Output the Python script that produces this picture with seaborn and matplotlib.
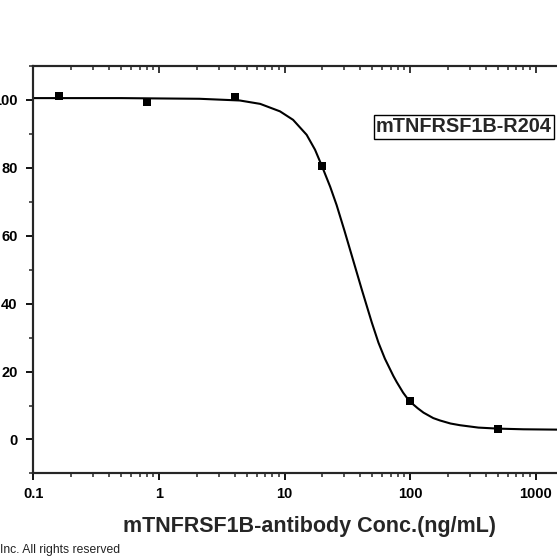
import matplotlib
matplotlib.use('Agg')
import matplotlib.pyplot as plt
import seaborn as sns
from matplotlib.ticker import FixedLocator, LogLocator, MultipleLocator, NullFormatter

# measured points (5-fold dilution series)
conc = [0.16, 0.8, 4, 20, 100, 500]
response = [101.0, 99.5, 100.8, 80.4, 11.3, 3.2]

# fitted curve
fit_conc = [0.1, 0.5, 1.0, 2.1, 4.4, 6.4, 9.2, 11.7, 15.0, 17.5, 19.9, 23.1,
            26.0, 30.0, 34.3, 41.2, 49.5, 56.0, 63.0, 73.6, 78.3, 88.0, 98.7,
            115, 128, 153, 173, 210, 250, 350, 500, 800, 1500]
fit_response = [100.5, 100.5, 100.4, 100.3, 99.8, 98.8, 96.6, 94.1, 89.7, 85.3,
                80.4, 74.4, 69.0, 61.5, 54.2, 44.2, 34.5, 28.5, 23.8, 18.7,
                16.9, 13.8, 11.3, 9.2, 7.9, 6.3, 5.6, 4.7, 4.2, 3.5, 3.2, 3.0,
                2.9]

x_ticks = [0.1, 1, 10, 100, 1000]
x_tick_labels = ['0.1', '1', '10', '100', '1000']
y_ticks = [0, 20, 40, 60, 80, 100]
sample_label = 'mTNFRSF1B-R204'
x_title = 'mTNFRSF1B-antibody Conc.(ng/mL)'
footer = 'Inc. All rights reserved'

sns.set_style('ticks')
plt.rcParams['font.family'] = ['Liberation Sans', 'DejaVu Sans']

fig = plt.figure(figsize=(5.57, 5.57), dpi=100)
# axes run past the right edge: the source image is cropped there
ax = fig.add_axes([0.0601, 0.150, 1.009, 0.7318])

sns.lineplot(x=fit_conc, y=fit_response, color='black', linewidth=1.5,
             estimator=None, ax=ax)
sns.scatterplot(x=conc, y=response, marker='s', s=32, color='black',
                edgecolor='black', linewidth=0, zorder=3, ax=ax)

ax.set_xscale('log')
ax.set_xlim(0.1, 3000)
ax.set_ylim(-10, 110)

ax.xaxis.set_major_locator(FixedLocator(x_ticks))
ax.set_xticklabels(x_tick_labels)
ax.xaxis.set_minor_locator(LogLocator(base=10, subs=range(2, 10), numticks=20))
ax.xaxis.set_minor_formatter(NullFormatter())
ax.set_yticks(y_ticks)
ax.yaxis.set_minor_locator(MultipleLocator(10))

for side in ['left', 'bottom', 'top', 'right']:
    ax.spines[side].set_linewidth(1.5)
    ax.spines[side].set_color('black')

ax.tick_params(which='major', direction='out', length=5, width=1.3,
               labelsize=10.5, colors='black')
ax.tick_params(which='minor', direction='out', length=3, width=1.1)
ax.tick_params(axis='x', which='major', pad=5)
ax.tick_params(axis='y', which='major', pad=6.5)
for lab in ax.get_xticklabels() + ax.get_yticklabels():
    lab.set_fontweight('bold')

# top axis: inward ticks, no labels
top = ax.twiny()
top.set_xscale('log')
top.set_xlim(ax.get_xlim())
top.xaxis.set_major_locator(FixedLocator(x_ticks))
top.xaxis.set_minor_locator(LogLocator(base=10, subs=range(2, 10), numticks=20))
top.xaxis.set_major_formatter(NullFormatter())
top.xaxis.set_minor_formatter(NullFormatter())
top.tick_params(which='major', direction='in', length=5, width=1.3)
top.tick_params(which='minor', direction='in', length=3, width=1.1)
for side in top.spines:
    top.spines[side].set_linewidth(1.5)

ax.set_xlabel(x_title, fontsize=15.5, fontweight='bold')
ax.xaxis.set_label_coords(0.492, -0.105)
ax.set_ylabel('')

fig.text(376 / 557, 1 - 127 / 557, sample_label, fontsize=14.3, fontweight='bold',
         ha='left', va='center',
         bbox=dict(boxstyle='square,pad=0.12', facecolor='white',
                   edgecolor='black', linewidth=1.0))

fig.text(0.0, 0.0066, footer, fontsize=8.7, ha='left', va='baseline',
         color='#222222')

fig.savefig('out.png', dpi=100)
